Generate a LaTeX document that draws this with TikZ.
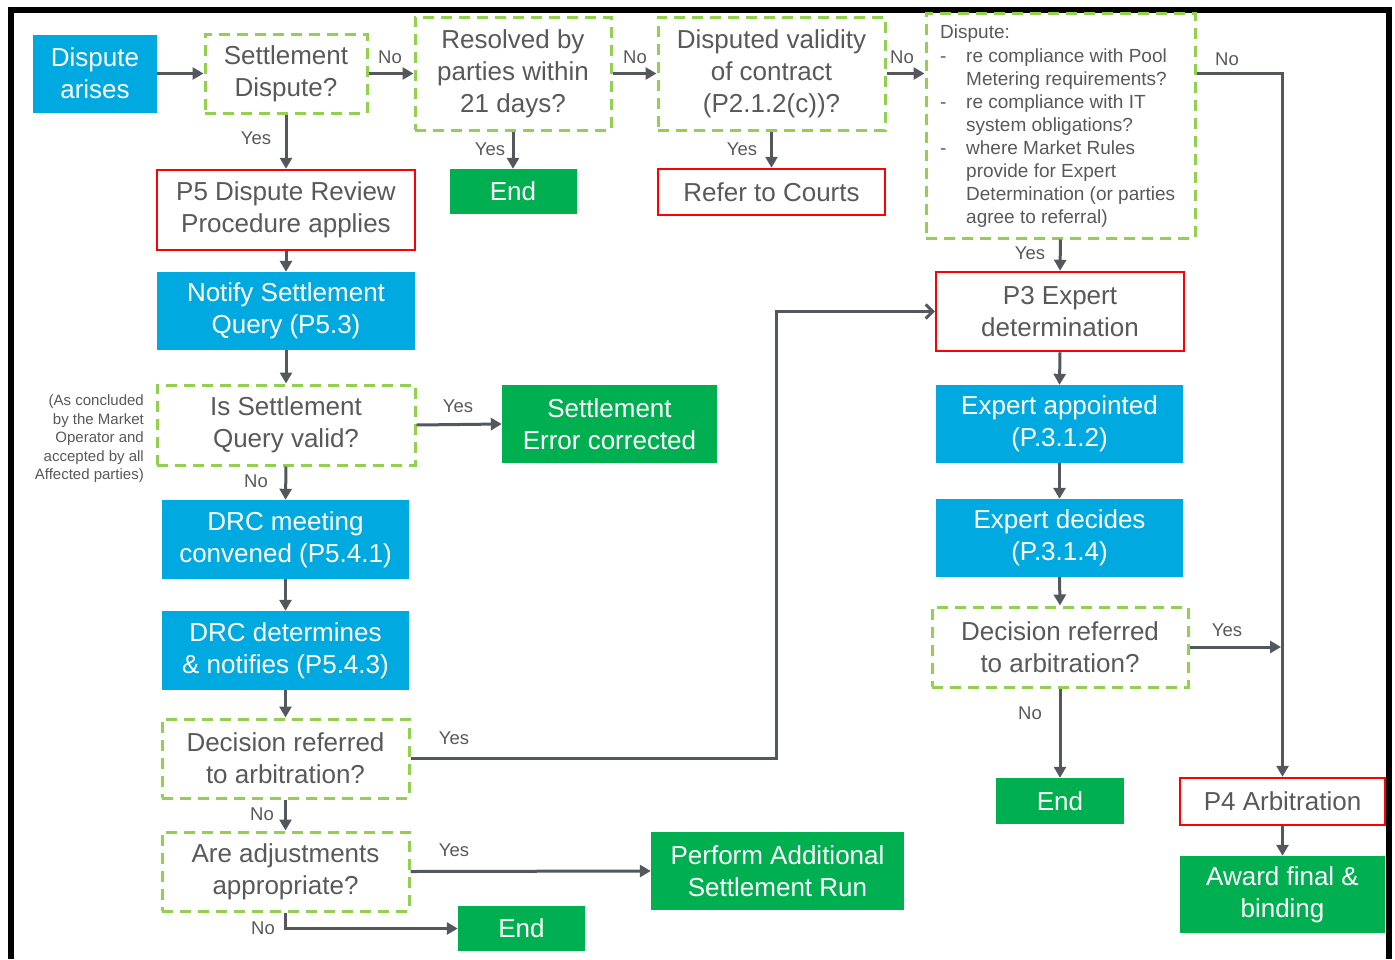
\documentclass[tikz,border=0pt]{standalone}
\usepackage{fontspec}
\setmainfont{Liberation Sans}
\usetikzlibrary{arrows.meta,calc}
\definecolor{cblue}{RGB}{0,169,224}
\definecolor{cgreen}{RGB}{0,176,80}
\definecolor{cred}{RGB}{255,0,0}
\definecolor{cdash}{RGB}{146,208,80}
\definecolor{ctext}{RGB}{89,89,89}
\definecolor{carrow}{RGB}{84,88,92}
\newcommand\mainfs{\fontsize{26}{32}\selectfont}
\newcommand\lblfs{\fontsize{18.5}{22}\selectfont}
\tikzset{
  box/.style={inner sep=0pt, align=center, font=\mainfs},
  bluebox/.style={box, fill=cblue, text=white},
  greenbox/.style={box, fill=cgreen, text=white},
  redbox/.style={box, draw=cred, line width=2.5pt, fill=white, text=ctext},
  dashbox/.style={box, draw=cdash, line width=3pt, dash pattern=on 11pt off 7pt, text=ctext},
  lbl/.style={inner sep=0pt, font=\lblfs, text=ctext},
  arr/.style={draw=carrow, line width=3pt, -{Triangle[length=11pt,width=12pt]}},
  openarr/.style={draw=carrow, line width=3pt, -{Straight Barb[length=7pt,width=14pt,line width=3pt]}},
}
\begin{document}
\begin{tikzpicture}[x=1pt,y=-1pt]
\useasboundingbox (0,0) rectangle (1395,959);
\fill[white] (0,0) rectangle (1395,959);
% frame
\draw[line width=6pt] (11,959) -- (11,9.5) -- (1389,9.5) -- (1389,959);

% top row
\node[bluebox, minimum width=124pt, minimum height=78pt] (n1) at (95,73.5) {Dispute\\arises};
\node[dashbox, minimum width=162pt, minimum height=79pt] (q1) at (286,73.5) {Settlement\\Dispute?};
\node[dashbox, minimum width=196pt, minimum height=113pt] (q2) at (513,73.5) {Resolved by\\parties within\\21 days?};
\node[dashbox, minimum width=227pt, minimum height=113pt] (q3) at (771.5,73.5) {Disputed validity\\of contract\\(P2.1.2(c))?};
\node[dashbox, minimum width=269pt, minimum height=225pt] (q4) at (1060.5,125.5) {};
\node[anchor=north west, inner sep=0pt, align=left, text=ctext, font=\fontsize{19}{23.1}\selectfont] (q4t) at (940,25) {Dispute:\\
\hbox to 26pt{-\hfil}re compliance with Pool\\
\hspace*{26pt}Metering requirements?\\
\hbox to 26pt{-\hfil}re compliance with IT\\
\hspace*{26pt}system obligations?\\
\hbox to 26pt{-\hfil}where Market Rules\\
\hspace*{26pt}provide for Expert\\
\hspace*{26pt}Determination (or parties\\
\hspace*{26pt}agree to referral)};

\node[greenbox, minimum width=127pt, minimum height=45pt] (e1) at (513,191.5) {End};
\node[redbox, minimum width=227pt, minimum height=46pt] (courts) at (771.5,192) {Refer to Courts};

% left column
\node[redbox, minimum width=258pt, minimum height=80pt] (p5) at (286,210) {P5 Dispute Review\\Procedure applies};
\node[bluebox, minimum width=258pt, minimum height=78pt] (notify) at (286,311) {Notify Settlement\\Query (P5.3)};
\node[dashbox, minimum width=258pt, minimum height=80pt] (valid) at (286,425) {Is Settlement\\Query valid?};
\node[anchor=east, inner sep=0pt, align=right, text=ctext, font=\fontsize{15}{18.5}\selectfont] (note) at (144,439) {(As concluded\\by the Market\\Operator and\\accepted by all\\Affected parties)};
\node[greenbox, minimum width=215pt, minimum height=78pt] (sec) at (609.5,424) {Settlement\\Error corrected};
\node[bluebox, minimum width=247pt, minimum height=79pt] (drc1) at (285.5,539.5) {DRC meeting\\convened (P5.4.1)};
\node[bluebox, minimum width=247pt, minimum height=79pt] (drc2) at (285.5,650.5) {DRC determines\\\& notifies (P5.4.3)};
\node[dashbox, minimum width=247pt, minimum height=79pt] (dl) at (285.5,758.5) {Decision referred\\to arbitration?};
\node[dashbox, minimum width=247pt, minimum height=79pt] (adj) at (285.5,871.5) {Are adjustments\\appropriate?};
\node[greenbox, minimum width=127pt, minimum height=45pt] (e2) at (521.5,928.5) {End};
\node[greenbox, minimum width=253pt, minimum height=78pt] (perf) at (777.5,871) {Perform Additional\\Settlement Run};

% right column
\node[redbox, minimum width=248pt, minimum height=79pt] (p3) at (1060,311.5) {P3 Expert\\determination};
\node[bluebox, minimum width=247pt, minimum height=78pt] (ea) at (1059.5,424) {Expert appointed\\(P.3.1.2)};
\node[bluebox, minimum width=247pt, minimum height=78pt] (ed) at (1059.5,538) {Expert decides\\(P.3.1.4)};
\node[dashbox, minimum width=256pt, minimum height=80pt] (dr) at (1060,647) {Decision referred\\to arbitration?};
\node[greenbox, minimum width=128pt, minimum height=46pt] (e3) at (1060,801) {End};
\node[redbox, minimum width=205pt, minimum height=47pt] (p4) at (1282.5,801.5) {P4 Arbitration};
\node[greenbox, minimum width=205pt, minimum height=77pt] (award) at (1282.5,894.5) {Award final \&\\binding};

% connectors
\draw[arr] (n1.east) -- (q1.west);
\draw[arr] (q1.east) -- (q2.west);
\draw[arr] (q2.east) -- (q3.west);
\draw[arr] (q3.east) -- (q3.east -| q4.west);
\draw[arr] (q1.south) -- (p5.north);
\draw[arr] (q2.south) -- (e1.north);
\draw[arr] (q3.south) -- (courts.north);
\draw[arr] (q4.south) -- (p3.north);
\draw[arr] (q3.east -| q4.east) -- (q3.east -| p4.north) -- (p4.north);
\draw[arr] (p5.south) -- (notify.north);
\draw[arr] (notify.south) -- (valid.north);
\draw[arr] (valid.east) -- (sec.west);
\draw[arr] (valid.south) -- (drc1.north);
\draw[arr] (drc1.south) -- (drc2.north);
\draw[arr] (drc2.south) -- (dl.north);
\coordinate (bend) at (776,758.5);
\draw[openarr] (dl.east) -- (bend) |- (p3.west);
\draw[arr] (dl.south) -- (adj.north);
\draw[arr] (adj.east) -- (perf.west);
\draw[arr] (adj.south) |- (e2.west);
\draw[arr] (p3.south) -- (ea.north);
\draw[arr] (ea.south) -- (ed.north);
\draw[arr] (ed.south) -- (dr.north);
\draw[arr] (dr.east) -- ([xshift=-1.5pt]dr.east -| p4.north);
\draw[arr] (dr.south) -- (e3.north);
\draw[arr] (p4.south) -- (award.north);

% labels
\node[lbl] (l1) at (390,57) {No};
\node[lbl] (l2) at (635,57) {No};
\node[lbl] (l3) at (902,57) {No};
\node[lbl] (l4) at (1227,59) {No};
\node[lbl] (l5) at (256,138) {Yes};
\node[lbl] (l6) at (490,149) {Yes};
\node[lbl] (l7) at (742,149) {Yes};
\node[lbl] (l8) at (1030,253) {Yes};
\node[lbl] (l9) at (458,406) {Yes};
\node[lbl] (l10) at (256,481) {No};
\node[lbl] (l11) at (454,738) {Yes};
\node[lbl] (l12) at (262,814) {No};
\node[lbl] (l13) at (454,850) {Yes};
\node[lbl] (l14) at (263,928) {No};
\node[lbl] (l15) at (1227,630) {Yes};
\node[lbl] (l16) at (1030,713) {No};
\end{tikzpicture}
\end{document}
